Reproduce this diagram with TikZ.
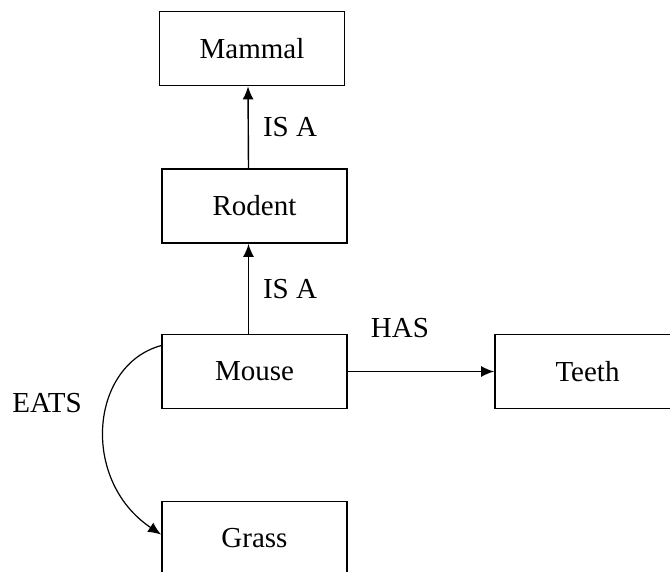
\documentclass[tikz,border=0pt]{standalone}
\usepackage{fontspec}
\setmainfont{Liberation Serif}
\usetikzlibrary{arrows.meta}
\begin{document}
\begin{tikzpicture}[x=0.5pt,y=-0.5pt,
  every node/.style={font=\fontsize{14.5pt}{17pt}\selectfont},
  box/.style={draw, line width=0.9pt, minimum width=92.5pt, minimum height=37pt, inner sep=0pt},
  lbl/.style={inner sep=0pt},
  arr/.style={line width=0.7pt, -{Latex[length=6.5pt,width=5.5pt]}}]
  \useasboundingbox (0,0) rectangle (670,572);
  \clip (0,0) rectangle (670,572);
  % concept boxes
  \node[box] (mammal) at (252,48.5) {Mammal};
  \node[box] (rodent) at (254.5,206) {Rodent};
  \node[box] (mouse)  at (254.5,371.5) {Mouse};
  \node[box] (teeth)  at (587.5,371.5) {Teeth};
  \node[box] (grass)  at (254.5,538.5) {Grass};
  % relations
  \draw[arr] ([xshift=-3pt]rodent.north) -- ([xshift=-2pt]mammal.south);
  \draw[arr] ([xshift=-3pt]mouse.north) -- ([xshift=-3pt]rodent.south);
  \draw[arr] (mouse.east) -- (teeth.west);
  \draw[arr, line width=0.6pt] ([yshift=-6pt]mouse.north west)
    .. controls (90,365) and (80,480) .. ([yshift=-17pt]grass.north west);
  % relation labels
  \node[lbl] (isa1) at (290,127) {IS A};
  \node[lbl] (isa2) at (290,289) {IS A};
  \node[lbl] (has)  at (400,328) {HAS};
  \node[lbl] (eats) at (47,403) {EATS};
\end{tikzpicture}
\end{document}
